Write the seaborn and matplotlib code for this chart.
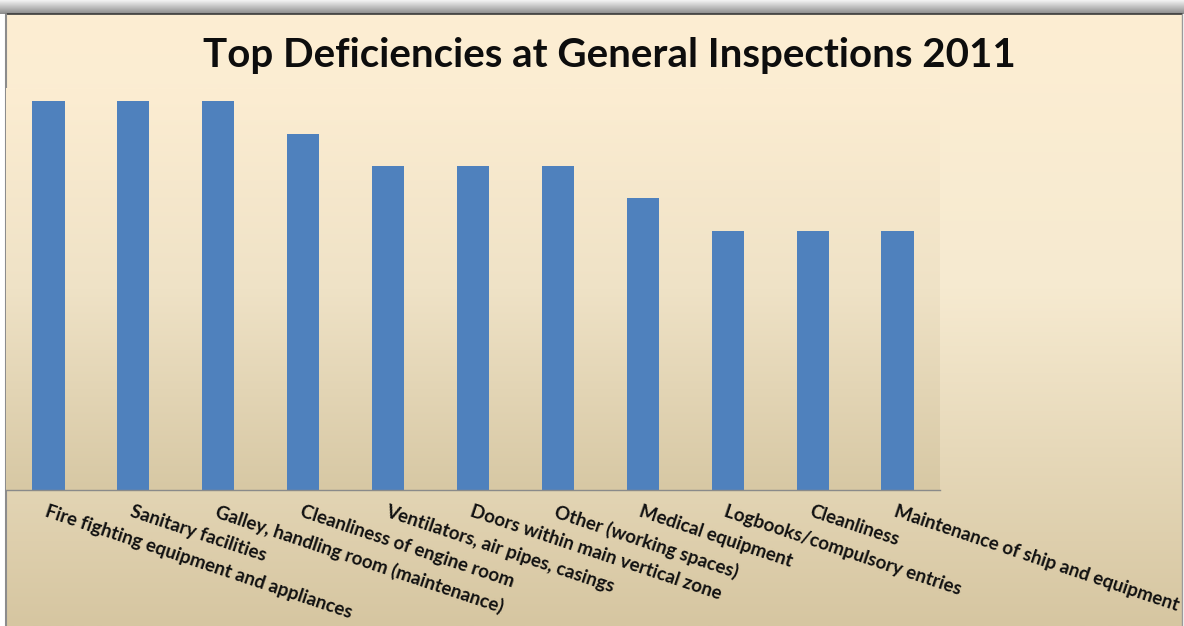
import matplotlib.pyplot as plt
import matplotlib.colors as mcolors
import numpy as np
import seaborn as sns

categories = [
    "Fire fighting equipment and appliances",
    "Sanitary facilities",
    "Galley, handling room (maintenance)",
    "Cleanliness of engine room",
    "Ventilators, air pipes, casings",
    "Doors within main vertical zone",
    "Other (working spaces)",
    "Medical equipment",
    "Logbooks/compulsory entries",
    "Cleanliness",
    "Maintenance of ship and equipment",
]
counts = [12, 12, 12, 11, 10, 10, 10, 9, 8, 8, 8]

W, H = 1184, 626
sns.set_theme(style="white")
plt.rcParams["font.family"] = ["Lato", "DejaVu Sans"]

fig = plt.figure(figsize=(W / 100, H / 100), dpi=100)
fig.patch.set_facecolor("white")

# background panel in pixel coordinates
bg = fig.add_axes([0, 0, 1, 1], zorder=0)
bg.set_xlim(0, W)
bg.set_ylim(H, 0)
bg.axis("off")

shadow = mcolors.LinearSegmentedColormap.from_list("sh", ["#f4f4f4", "#8a8a8a"])
bg.imshow(np.linspace(0, 1, 64).reshape(-1, 1), cmap=shadow, aspect="auto",
          extent=[0, W, 14, 0])
panel = mcolors.LinearSegmentedColormap.from_list(
    "panel", [(0, "#fdeed3"), (0.45, "#f6ead0"), (1, "#d6c6a1")])
bg.imshow(np.linspace(0, 1, 256).reshape(-1, 1), cmap=panel, aspect="auto",
          extent=[6, W - 2, H, 14])
bg.plot([6, W - 2], [14, 14], color="#3a3a3a", lw=1.2)
bg.plot([6, 6], [14, H], color="#8c8c8c", lw=1.5)
bg.plot([W - 2, W - 2], [14, H], color="#9a9a9a", lw=1)

# chart
base_y, top_y = 490, 88
ax = fig.add_axes([6 / W, (H - base_y) / H, (940 - 6) / W, (base_y - top_y) / H],
                  zorder=1)
ax.patch.set_alpha(0)
plot_grad = mcolors.LinearSegmentedColormap.from_list(
    "plot", [(0, "#d7c8a4"), (0.5, "#efe2c6"), (1, "#fcedd2")])
ymax = (base_y - top_y) / 32.4
ax.imshow(np.linspace(0, 1, 256).reshape(-1, 1), cmap=plot_grad, aspect="auto",
          origin="lower", extent=[-0.5, len(categories) - 0.5, 0, ymax], zorder=0)

sns.barplot(x=categories, y=counts, color="#4f81bd", saturation=1, width=0.38,
            linewidth=0, ax=ax, zorder=2)
ax.set_xlim(-0.5, len(categories) - 0.5)
ax.set_ylim(0, ymax)
ax.set_yticks([])
for s in ["top", "right", "left"]:
    ax.spines[s].set_visible(False)
ax.spines["bottom"].set_color("#8a8a8a")
ax.spines["bottom"].set_linewidth(1)
ax.tick_params(axis="x", length=0, pad=9)
ax.set_xticks(range(len(categories)))
ax.set_xticklabels(categories, rotation=-18.5, ha="left", rotation_mode="anchor",
                   fontsize=13.5, fontweight="bold", color="#111111")
ax.set_xlabel("")
ax.set_ylabel("")

fig.text(609 / W, 1 - 55 / H, "Top Deficiencies at General Inspections 2011",
         ha="center", va="center", fontsize=29, fontweight="bold", color="#0d0d0d")

fig.savefig("out.png", dpi=100)
